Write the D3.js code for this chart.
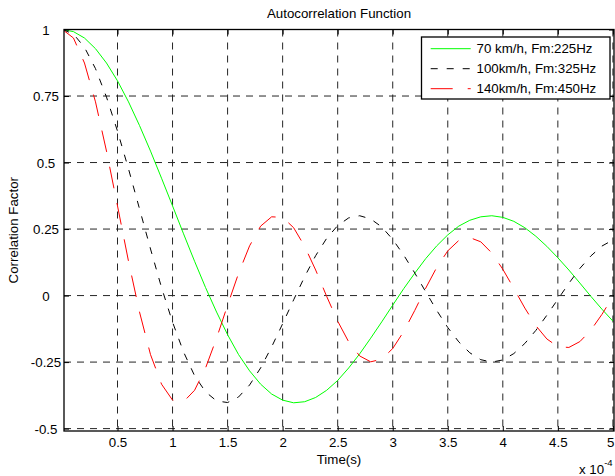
<!DOCTYPE html>
<html>
<head>
<meta charset="utf-8">
<script src="https://cdn.jsdelivr.net/npm/d3@7"></script>
<style>
  html, body { margin: 0; padding: 0; background: #fff; }
  svg { display: block; }
  text { font-family: "Liberation Sans", Arial, Helvetica, sans-serif; fill: #000; }
</style>
</head>
<body>
<svg id="chart" width="615" height="476"></svg>
<script>
// ---- data (time in units of 1e-4 s) ----
const timeValues = [0,0.1,0.2,0.3,0.4,0.5,0.6,0.7,0.8,0.9,1.0,1.1,1.2,1.3,1.4,1.5,1.6,1.7,1.8,1.9,2.0,
  2.1,2.2,2.3,2.4,2.5,2.6,2.7,2.8,2.9,3.0,3.1,3.2,3.3,3.4,3.5,3.6,3.7,3.8,3.9,4.0,
  4.1,4.2,4.3,4.4,4.5,4.6,4.7,4.8,4.9,5.0];

const series70 = [1.000,0.992,0.968,0.928,0.874,0.807,0.728,0.639,0.543,0.441,0.337,
  0.232,0.129,0.030,-0.062,-0.147,-0.222,-0.283,-0.333,-0.370,-0.393,
  -0.403,-0.399,-0.383,-0.356,-0.319,-0.272,-0.219,-0.160,-0.099,-0.036,
  0.026,0.084,0.139,0.187,0.228,0.261,0.283,0.296,0.300,0.294,
  0.279,0.255,0.223,0.185,0.142,0.096,0.047,-0.003,-0.051,-0.096];

const series100 = [1.000,0.983,0.933,0.853,0.746,0.618,0.476,0.326,0.175,0.030,-0.100,
  -0.212,-0.301,-0.362,-0.396,-0.402,-0.381,-0.336,-0.272,-0.193,-0.106,
  -0.016,0.071,0.150,0.215,0.263,0.292,0.300,0.288,0.258,0.211,
  0.152,0.085,0.014,-0.056,-0.120,-0.174,-0.215,-0.241,-0.250,-0.242,
  -0.218,-0.180,-0.131,-0.074,-0.014,0.046,0.102,0.149,0.186,0.209];

const series140 = [1.000,0.968,0.874,0.728,0.543,0.337,0.129,-0.062,-0.222,-0.333,-0.393,
  -0.399,-0.356,-0.272,-0.160,-0.036,0.084,0.187,0.261,0.296,0.294,
  0.255,0.185,0.096,-0.003,-0.096,-0.174,-0.227,-0.249,-0.239,-0.199,
  -0.135,-0.056,0.028,0.106,0.168,0.207,0.218,0.202,0.160,0.099,
  0.027,-0.047,-0.113,-0.163,-0.192,-0.195,-0.173,-0.130,-0.071,-0.004];

const seriesNames = ["70 km/h, Fm:225Hz", "100km/h, Fm:325Hz", "140km/h, Fm:450Hz"];
const seriesColors = ["#00ff00", "#000000", "#ff0000"];
const seriesDashes = [null, "7,9", "22,15"];

const xTicks = [0.5,1,1.5,2,2.5,3,3.5,4,4.5,5];
const xTickLabels = ["0.5","1","1.5","2","2.5","3","3.5","4","4.5","5"];
const yTicks = [-0.5,-0.25,0,0.25,0.5,0.75,1];
const yTickLabels = ["-0.5","-0.25","0","0.25","0.5","0.75","1"];

const titleText = "Autocorrelation Function";
const xLabelText = "Time(s)";
const yLabelText = "Correlation Factor";

(function () {
// ---- layout ----
const svg = d3.select("#chart");
const pL = 64, pR = 614, pT = 29.5, pB = 431;

const x = d3.scaleLinear().domain([0.014, 5.01]).range([pL, pR]);
const y = d3.scaleLinear().domain([-0.509, 1]).range([pB, pT]);

svg.append("defs").append("clipPath").attr("id", "plotclip")
  .append("rect").attr("x", pL).attr("y", pT - 1).attr("width", pR - pL).attr("height", pB - pT + 2);

// grid
const grid = svg.append("g").attr("stroke", "#000").attr("stroke-width", 1).attr("stroke-dasharray", "7,6").attr("opacity", 0.85);
grid.selectAll("line.gx").data(xTicks).join("line")
  .attr("x1", d => x(d)).attr("x2", d => x(d)).attr("y1", pT).attr("y2", pB);
grid.selectAll("line.gy").data(yTicks).join("line")
  .attr("y1", d => y(d)).attr("y2", d => y(d)).attr("x1", pL).attr("x2", pR);

// series
const allSeries = [series70, series100, series140];
const line = d3.line().x((d, i) => x(timeValues[i])).y(d => y(d));
const plot = svg.append("g").attr("clip-path", "url(#plotclip)");
allSeries.forEach((s, k) => {
  plot.append("path").datum(s)
    .attr("d", line)
    .attr("fill", "none")
    .attr("stroke", seriesColors[k])
    .attr("stroke-width", 1)
    .attr("stroke-dasharray", seriesDashes[k]);
});

// axes box
svg.append("rect").attr("x", pL).attr("y", pT).attr("width", pR - pL).attr("height", pB - pT)
  .attr("fill", "none").attr("stroke", "#000").attr("stroke-width", 1.3);

// ticks (inward) via d3 axes
const tl = 5;
const axB = svg.append("g").attr("transform", `translate(0,${pB})`)
  .call(d3.axisBottom(x).tickValues(xTicks).tickSize(-tl).tickFormat((d, i) => xTickLabels[i]));
const axT = svg.append("g").attr("transform", `translate(0,${pT})`)
  .call(d3.axisTop(x).tickValues(xTicks).tickSize(-tl).tickFormat(""));
const axL = svg.append("g").attr("transform", `translate(${pL},0)`)
  .call(d3.axisLeft(y).tickValues(yTicks).tickSize(-tl).tickFormat((d, i) => yTickLabels[i]));
const axR = svg.append("g").attr("transform", `translate(${pR},0)`)
  .call(d3.axisRight(y).tickValues(yTicks).tickSize(-tl).tickFormat(""));
[axB, axT, axL, axR].forEach(a => {
  a.select(".domain").remove();
  a.selectAll(".tick line").attr("stroke", "#000");
});
axB.selectAll(".tick text").attr("font-size", "13.3px").attr("y", 7).attr("dy", "0.71em")
  .style("font-family", "'Liberation Sans', Arial, sans-serif")
  .attr("text-anchor", (d, i) => i === xTicks.length - 1 ? "end" : "middle")
  .attr("x", (d, i) => i === xTicks.length - 1 ? 1 : 0);
axL.selectAll(".tick text").attr("font-size", "13.3px").attr("text-anchor", "middle").attr("x", 46 - pL)
  .attr("dy", "0.35em").style("font-family", "'Liberation Sans', Arial, sans-serif");

// exponent
const expo = svg.append("text").attr("x", 579).attr("y", 474).attr("font-size", "13.3px");
expo.append("tspan").text("x 10");
expo.append("tspan").attr("dy", -8).attr("font-size", "9.5px").text("-4");

// title and labels
svg.append("text").attr("x", (pL + pR) / 2).attr("y", 18).attr("text-anchor", "middle")
  .attr("font-size", "13.3px").text(titleText);
svg.append("text").attr("x", (pL + pR) / 2).attr("y", 464).attr("text-anchor", "middle")
  .attr("font-size", "13.3px").text(xLabelText);
svg.append("text").attr("transform", `translate(18,${(pT + pB) / 2}) rotate(-90)`)
  .attr("text-anchor", "middle").attr("font-size", "13.3px").text(yLabelText);

// legend
const lg = svg.append("g");
lg.append("rect").attr("x", 421.5).attr("y", 37).attr("width", 188.5).attr("height", 62)
  .attr("fill", "#fff").attr("stroke", "#000").attr("stroke-width", 1.3);
seriesNames.forEach((name, k) => {
  const cy = 48.7 + k * 20;
  lg.append("line").attr("x1", 430.7).attr("x2", 470.7).attr("y1", cy).attr("y2", cy)
    .attr("stroke", seriesColors[k]).attr("stroke-width", 1).attr("stroke-dasharray", seriesDashes[k]);
  lg.append("text").attr("x", 476.5).attr("y", cy + 4.7).attr("font-size", "13.3px").text(name);
});
})();
</script>
</body>
</html>
